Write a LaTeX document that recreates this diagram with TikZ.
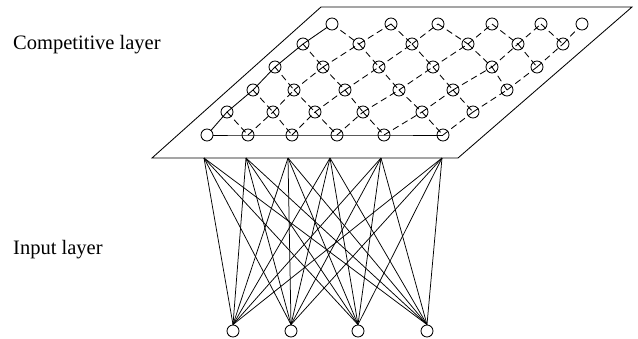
\documentclass[tikz,border=0pt]{standalone}
\usepackage{fontspec}
\setmainfont{Liberation Serif}
\begin{document}
\begin{tikzpicture}[x=1pt,y=-1pt,
  neuron/.style={circle,draw,line width=0.85pt,minimum size=12pt,inner sep=0pt},
  solidlink/.style={line width=0.85pt},
  dashlink/.style={line width=0.85pt,dash pattern=on 6.5pt off 4pt},
  wire/.style={line width=0.75pt},
  plane/.style={line width=0.85pt},
  lbl/.style={anchor=west,inner sep=0pt,font=\fontsize{20.5}{24}\selectfont}]
\useasboundingbox (0,0) rectangle (638,338);

% competitive plane
\draw[plane] (321,7) -- (632,7) -- (458,158) -- (152,158) -- cycle;

% lattice node positions, row by row from the front edge
\foreach \r/\y/\xs in {1/135/{207,248,292,337,384,443},
                       2/112/{227,273,315,363,422,473},
                       3/90/{253,294,345,399,453,507},
                       4/67/{275,323,379,433,492,537},
                       5/44/{303,359,412,468,518,563},
                       6/24/{332,391,438,492,541,582}}{
  \foreach \x [count=\c] in \xs
    \coordinate (p-\r-\c) at (\x,\y);
}

% lattice links
\foreach \r in {2,...,6}
  \foreach \c [evaluate=\c as \n using int(\c+1)] in {1,...,5}
    \draw[dashlink] (p-\r-\c) -- (p-\r-\n);
\foreach \r [evaluate=\r as \s using int(\r+1)] in {1,...,5}{
  \foreach \c in {2,...,6}
    \draw[dashlink] (p-\r-\c) -- (p-\s-\c);
  \foreach \c [evaluate=\c as \n using int(\c+1)] in {1,...,5}
    \draw[dashlink] (p-\s-\c) -- (p-\r-\n);
}
\draw[solidlink] (p-1-1) -- (p-1-2) -- (p-1-3) -- (p-1-4) -- (p-1-5) -- (p-1-6);
\draw[solidlink] (p-1-1) -- (p-2-1) -- (p-3-1) -- (p-4-1) -- (p-5-1) -- (p-6-1);

% lattice neurons; the three corner ones are left clear inside
\foreach \r in {1,...,6}
  \foreach \c in {1,...,6}{
    \pgfmathtruncatemacro\corner{(\r==1&&\c==1)||(\r==6&&\c==1)||(\r==6&&\c==6)}
    \ifnum\corner=1
      \node[neuron,fill=white] (g-\r-\c) at (p-\r-\c) {};
    \else
      \node[neuron] (g-\r-\c) at (p-\r-\c) {};
    \fi
  }

% input neurons
\node[neuron,fill=white] (in1) at (233,331) {};
\node[neuron,fill=white] (in2) at (291,331) {};
\node[neuron,fill=white] (in3) at (358,331) {};
\node[neuron,fill=white] (in4) at (427,331) {};

% attachment points on the plane's front edge
\coordinate (t1) at (204,158);
\coordinate (t2) at (246,158);
\coordinate (t3) at (288,158);
\coordinate (t4) at (330,158);
\coordinate (t5) at (381,158);
\coordinate (t6) at (442,158);

% full connections between the layers
\foreach \i in {1,...,6}
  \foreach \j in {1,...,4}
    \draw[wire] (t\i) -- (in\j.north);

% layer labels
\node[lbl] (lc) at (13,45) {Competitive layer};
\node[lbl] (li) at (13,250) {Input layer};
\end{tikzpicture}
\end{document}
